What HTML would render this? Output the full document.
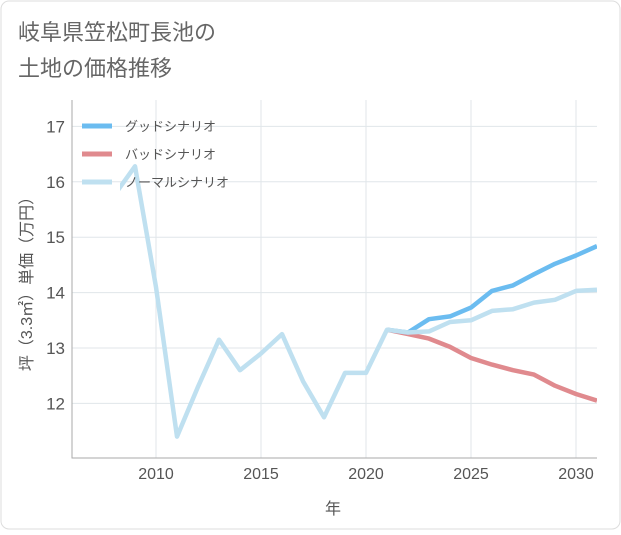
<!DOCTYPE html>
<html><head><meta charset="utf-8">
<style>
body{margin:0;background:#fff;}
#wrap{position:relative;width:621px;height:530px;font-family:"Liberation Sans","Noto Sans CJK JP",sans-serif;}
</style></head>
<body>
<div id="wrap">
<svg id="chart" width="621" height="530" xmlns="http://www.w3.org/2000/svg">
<defs><clipPath id="pc"><rect x="120" y="90" width="477" height="370"/></clipPath></defs>
<rect x="1" y="1" width="619" height="528" rx="8" fill="#fff" stroke="#ddd"/>
<text x="18" y="40" font-size="22" fill="#666">岐阜県笠松町長池の</text>
<text x="18" y="76" font-size="22" fill="#666">土地の価格推移</text>
<g id="grid"></g>
<g id="series" clip-path="url(#pc)"></g>
<g id="legend"></g>
<text x="333" y="514" font-size="16" fill="#555" text-anchor="middle">年</text>
<text transform="translate(32,280) rotate(-90)" font-size="16" fill="#555" text-anchor="middle">坪（3.3㎡）単価（万円）</text>
</svg>
</div>
<script>
const xTicks=[2010,2015,2020,2025,2030];
const yTicks=[12,13,14,15,16,17];
const normalYears=[2008,2009,2010,2011,2012,2013,2014,2015,2016,2017,2018,2019,2020,2021,2022,2023,2024,2025,2026,2027,2028,2029,2030,2031];
const normalVals=[15.75,16.28,14.1,11.4,12.3,13.15,12.6,12.9,13.25,12.4,11.75,12.55,12.55,13.33,13.28,13.3,13.47,13.5,13.67,13.7,13.82,13.87,14.03,14.05];
const futureYears=[2021,2022,2023,2024,2025,2026,2027,2028,2029,2030,2031];
const goodVals=[13.33,13.28,13.52,13.57,13.73,14.03,14.13,14.33,14.52,14.67,14.84];
const badVals=[13.33,13.25,13.17,13.02,12.82,12.7,12.6,12.52,12.32,12.17,12.05];
const seriesNames=["グッドシナリオ","バッドシナリオ","ノーマルシナリオ"];
const L=72,R=597,T=100,B=458;
const xS=y=>L+(y-2006)*(R-L)/25;
const yS=v=>348-(v-13)*55.4;
const NS="http://www.w3.org/2000/svg";
function mk(tag,attrs,parent){const e=document.createElementNS(NS,tag);for(const k in attrs)e.setAttribute(k,attrs[k]);parent.appendChild(e);return e;}
const grid=document.getElementById('grid');
xTicks.forEach(t=>{
 const l=mk('line',{x1:xS(t),x2:xS(t),y1:T,y2:B,stroke:'#e0e6ea'},grid);
 
 
 const tx=mk('text',{x:xS(t),y:B+21,'font-size':16,fill:'#555','text-anchor':'middle'},grid);
 tx.textContent=t;
 
 
});
yTicks.forEach(t=>{
 const l=mk('line',{x1:L,x2:R,y1:yS(t),y2:yS(t),stroke:'#e0e6ea'},grid);
 
 
 const tx=mk('text',{x:L-7,y:yS(t)+6,'font-size':17,fill:'#555','text-anchor':'end'},grid);
 tx.textContent=t;
 
 
});
const ax=mk('path',{d:`M${L} ${T}V${B}H${R}`,fill:'none',stroke:'#aaa'},grid);


const sg=document.getElementById('series');
function line(xs,vs,color,name){
 const d=xs.map((x,i)=>(i?'L':'M')+xS(x).toFixed(1)+' '+yS(vs[i]).toFixed(1)).join('');
 const p=mk('path',{d:d,fill:'none',stroke:color,'stroke-width':4.5,'stroke-linejoin':'round'},sg);
 
 
}
line(futureYears,badVals,'#e08a8e','bad-scenario-line');
line(futureYears,goodVals,'#6bbcf0','good-scenario-line');
line(normalYears,normalVals,'#bfe0f0','normal-scenario-line');
const lg=document.getElementById('legend');
const cols=['#6bbcf0','#e08a8e','#bfe0f0'];
seriesNames.forEach((n,i)=>{
 const y=126+i*28;
 const l=mk('line',{x1:82,x2:112,y1:y,y2:y,stroke:cols[i],'stroke-width':5},lg);
 
 
 const t=mk('text',{x:125,y:y+5,'font-size':13,fill:'#555'},lg);
 t.textContent=n;
 
 
});
</script>
</body></html>
